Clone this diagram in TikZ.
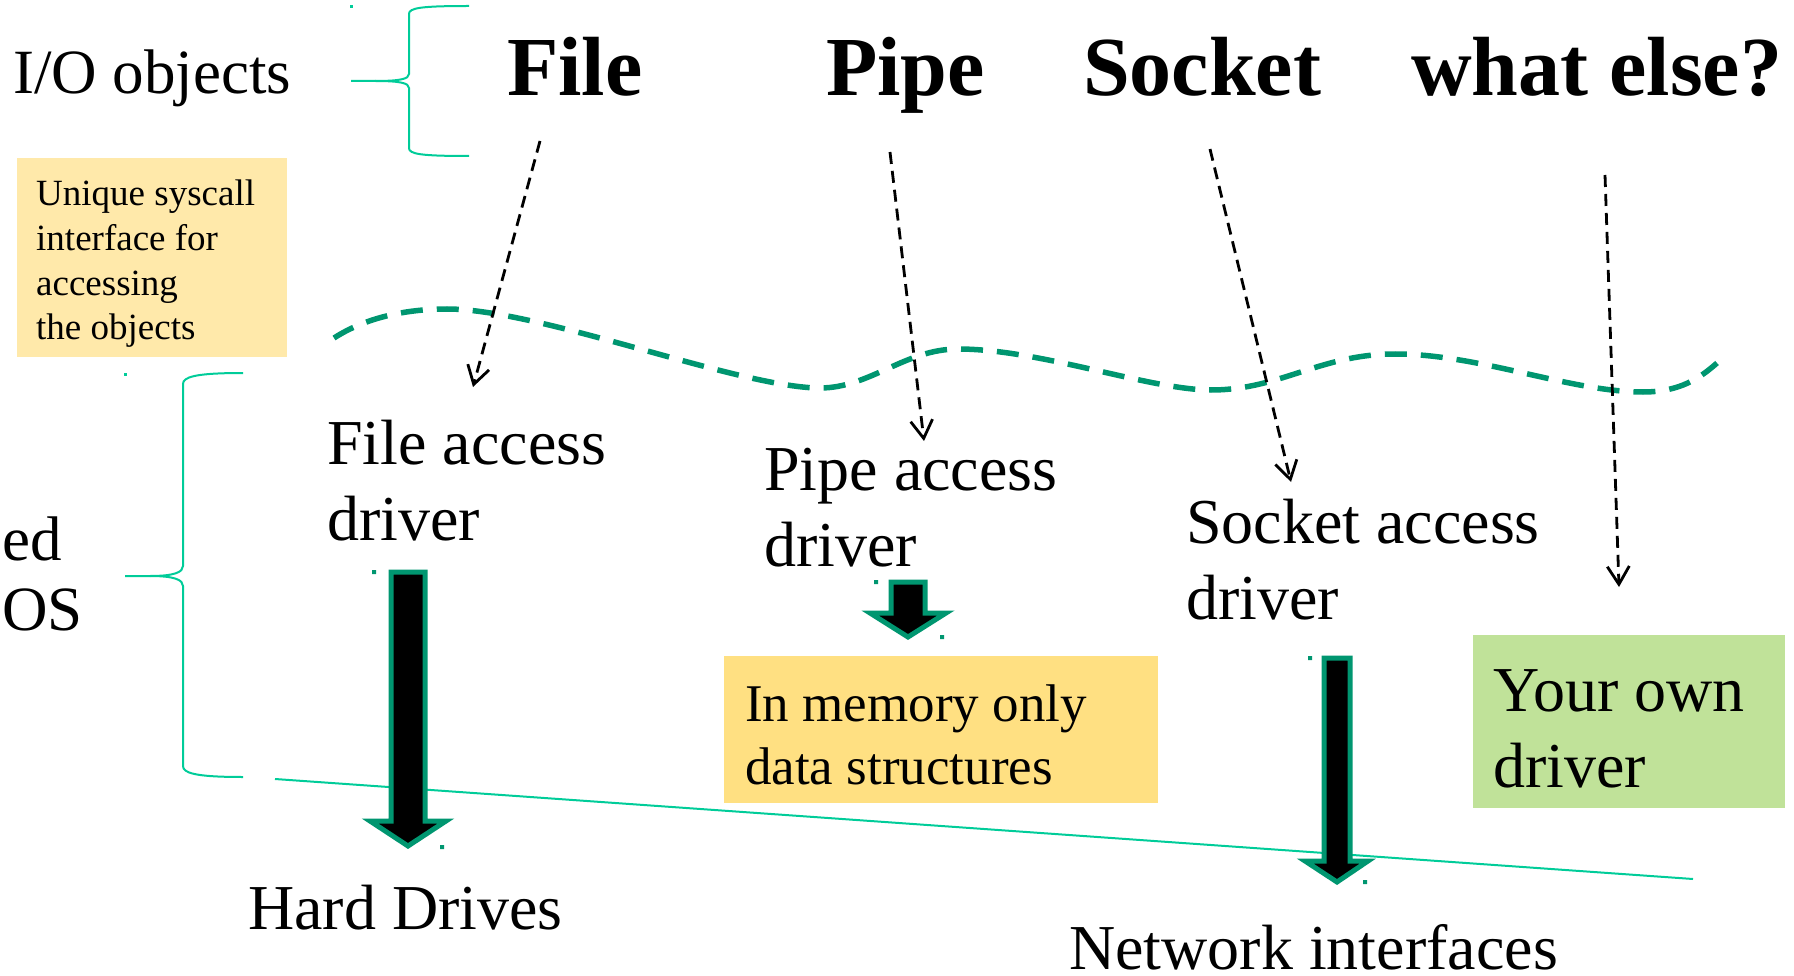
\documentclass[tikz,border=0pt]{standalone}
\usepackage{fontspec}
\setmainfont{Liberation Serif}
\usetikzlibrary{arrows.meta}

\definecolor{bracegreen}{RGB}{0,204,153}
\definecolor{wavegreen}{RGB}{0,150,112}
\definecolor{notebg}{RGB}{255,233,170}
\definecolor{membg}{RGB}{255,224,130}
\definecolor{ownbg}{RGB}{192,226,153}

\tikzset{
  title/.style={anchor=base west, inner sep=0pt, font=\fontsize{84}{100}\selectfont\bfseries},
  txt/.style={anchor=base west, inner sep=0pt, align=left, font=\fontsize{64}{76}\selectfont},
  brace/.style={draw=bracegreen, line width=2pt},
  call/.style={draw=black, line width=2.8pt, dash pattern=on 12pt off 7pt,
    -{Straight Barb[length=18pt,width=22pt]}},
  fatarrow/.style={draw=wavegreen, fill=black, line width=5pt, line join=miter},
  boundary/.style={draw=wavegreen, line width=5.5pt, dash pattern=on 22pt off 14pt},
  box/.style={anchor=north west, inner sep=0pt}
}

\begin{document}
\begin{tikzpicture}[x=1pt, y=-1pt]
    \useasboundingbox (0,0) rectangle (1794,976);

    % TOP: I/O objects
    \node[txt, font=\fontsize{63}{76}\selectfont] (ioobj) at (13,94) {I/O objects};
    \draw[brace] (351,81) -- (375,81) .. controls (400,81) and (409,79) .. (409,74)
        -- (409,14) .. controls (409,8) and (420,6) .. (469,6);
    \draw[brace] (375,81) .. controls (400,81) and (409,83) .. (409,88)
        -- (409,148) .. controls (409,154) and (420,156) .. (469,156);
    \fill[bracegreen] (350,5) rectangle ++(3,3);

    \node[title] (file) at (507,96) {File};
    \node[title] (pipe) at (826,96) {Pipe};
    \node[title] (socket) at (1083,96) {Socket};
    \node[title] (whatelse) at (1411,96) {what else?};

    % Syscall note (base = last line)
    \node[box, fill=notebg, minimum width=270pt, minimum height=199pt] (notebox) at (17,158) {};
    \node[txt, font=\fontsize{37}{44.7}\selectfont] (note) at (36,340)
        {Unique syscall\\interface for\\accessing\\the objects};

    % Kernel boundary
    \draw[boundary] (334,338) .. controls (365,318) and (405,309) .. (447,309)
        .. controls (540,309) and (740,388) .. (820,388)
        .. controls (870,388) and (905,349) .. (958,349)
        .. controls (1040,349) and (1150,390) .. (1211,390)
        .. controls (1280,390) and (1320,354) .. (1395,354)
        .. controls (1480,354) and (1570,392) .. (1643,392)
        .. controls (1680,392) and (1700,378) .. (1717,363);

    % LEFT: OS brace
    \node[txt, font=\fontsize{63}{70}\selectfont] (privos) at (2,630) {ed\\OS};
    \draw[brace] (125,576) -- (150,576) .. controls (175,576) and (183,572) .. (183,566)
        -- (183,384) .. controls (183,377) and (195,373) .. (243,373);
    \draw[brace] (150,576) .. controls (175,576) and (183,580) .. (183,586)
        -- (183,766) .. controls (183,773) and (195,777) .. (243,777);
    \fill[bracegreen] (124,373) rectangle ++(3,3);

    % Drivers
    \node[txt] (filedrv) at (327,540) {File access\\driver};
    \node[txt] (pipedrv) at (764,566) {Pipe access\\driver};
    \node[txt] (sockdrv) at (1186,619) {Socket access\\driver};
    \node[box, fill=ownbg, minimum width=312pt, minimum height=173pt] (ownbox) at (1473,635) {};
    \node[txt] (owndrv) at (1493,787) {Your own\\driver};

    % Syscalls into the drivers
    \coordinate (fileA) at (540,141);   \coordinate (fileB) at (473,387);
    \coordinate (pipeA) at (890,152);   \coordinate (pipeB) at (924,441);
    \coordinate (sockA) at (1210,149);  \coordinate (sockB) at (1291,482);
    \coordinate (elseA) at (1605,175);  \coordinate (elseB) at (1619,587);
    \draw[call] (fileA) -- (fileB);
    \draw[call] (pipeA) -- (pipeB);
    \draw[call] (sockA) -- (sockB);
    \draw[call] (elseA) -- (elseB);

    % Hardware line
    \draw[brace] (275,779) -- (1693,879);

    % Devices
    \node[box, fill=membg, minimum width=434pt, minimum height=147pt] (membox) at (724,656) {};
    \node[txt, font=\fontsize{53}{63}\selectfont] (mem) at (745,784) {In memory only\\data structures};
    \node[txt] (hdd) at (248,929) {Hard Drives};
    \node[txt] (nic) at (1069,969) {Network interfaces};

    % Block arrows
    \draw[fatarrow] (391,572) -- (425,572) -- (425,821) -- (446,821) -- (408,846)
        -- (370,821) -- (391,821) -- cycle;
    \draw[fatarrow] (891,582) -- (925,582) -- (925,613) -- (946,613) -- (908,637)
        -- (870,613) -- (891,613) -- cycle;
    \draw[fatarrow] (1324,658) -- (1350,658) -- (1350,861) -- (1368,861) -- (1337,882)
        -- (1305,861) -- (1324,861) -- cycle;
    \fill[wavegreen] (372,570) rectangle ++(4,4) (440,845) rectangle ++(4,4)
        (874,580) rectangle ++(4,4) (940,635) rectangle ++(4,4)
        (1308,656) rectangle ++(4,4) (1363,880) rectangle ++(4,4);
\end{tikzpicture}
\end{document}
